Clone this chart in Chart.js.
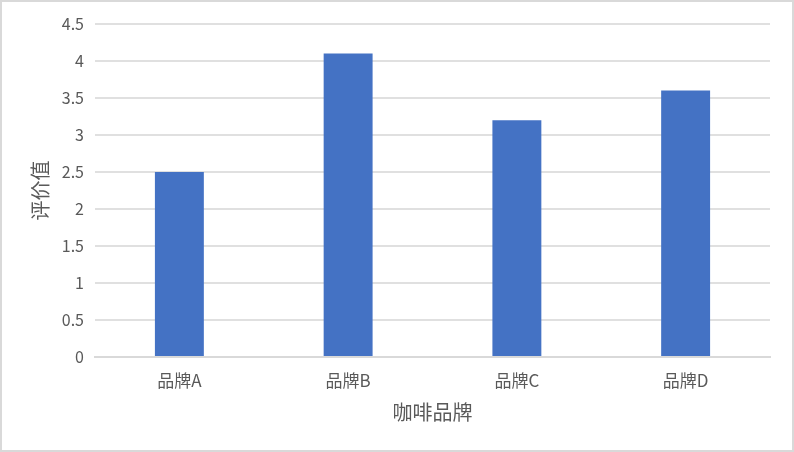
<!DOCTYPE html>
<html>
<head>
<meta charset="utf-8">
<script src="https://cdn.jsdelivr.net/npm/chart.js@4"></script>
<style>
  html, body { margin: 0; padding: 0; background: #fff; }
  .bar-chart {
    position: absolute; left: 0; top: 0;
    width: 794px; height: 452px;
    box-sizing: border-box;
    border: 2px solid #d9d9d9;
    background: #fff;
  }
</style>
</head>
<body>
<div class="bar-chart"></div>
<script>
const categories = ["品牌A", "品牌B", "品牌C", "品牌D"];
const ratings = [2.5, 4.1, 3.2, 3.6];
const xTitle = "咖啡品牌";
const yTitle = "评价值";

const FONT = "'Noto Sans CJK SC', 'Noto Sans', sans-serif";
const TEXT = "#595959";
const GRID = "#d9d9d9";

function showChart () {
  const ctx = document.createElement("canvas");
  document.querySelector(".bar-chart").appendChild(ctx);
  new Chart(ctx, {
    type: "bar",
    data: {
      labels: categories,
      datasets: [
        {
          label: yTitle,
          data: ratings,
          backgroundColor: "#4472c4",
          borderWidth: 0,
          barPercentage: 0.29,
          categoryPercentage: 1,
        },
      ],
    },
    options: {
      responsive: true,
      maintainAspectRatio: false,
      animation: false,
      layout: { padding: { top: 22, right: 22, left: 0, bottom: 0 } },
      plugins: {
        legend: { display: false },
        tooltip: { enabled: false },
      },
      scales: {
        x: {
          grid: { display: false, drawTicks: false },
          border: { display: true, color: GRID, width: 2 },
          ticks: { color: TEXT, font: { family: FONT, size: 17 }, padding: 13 },
          title: {
            display: true, text: xTitle, color: TEXT,
            font: { family: FONT, size: 20 },
            padding: { top: 26, bottom: 26 },
          },
          afterFit: s => { s.height = 93; },
        },
        y: {
          min: 0,
          max: 4.5,
          grid: { color: "#e0e0e0", lineWidth: 2, drawTicks: false },
          border: { display: false },
          ticks: {
            stepSize: 0.5, color: TEXT, font: { family: FONT, size: 16 }, padding: 11,
            callback: v => String(v),
          },
          title: {
            display: true, text: yTitle, color: TEXT,
            font: { family: FONT, size: 20 },
            padding: { top: 26, bottom: 26 },
          },
          afterFit: s => { s.width = 93; },
        },
      },
    },
  });
}
showChart ()
</script>
</body>
</html>
